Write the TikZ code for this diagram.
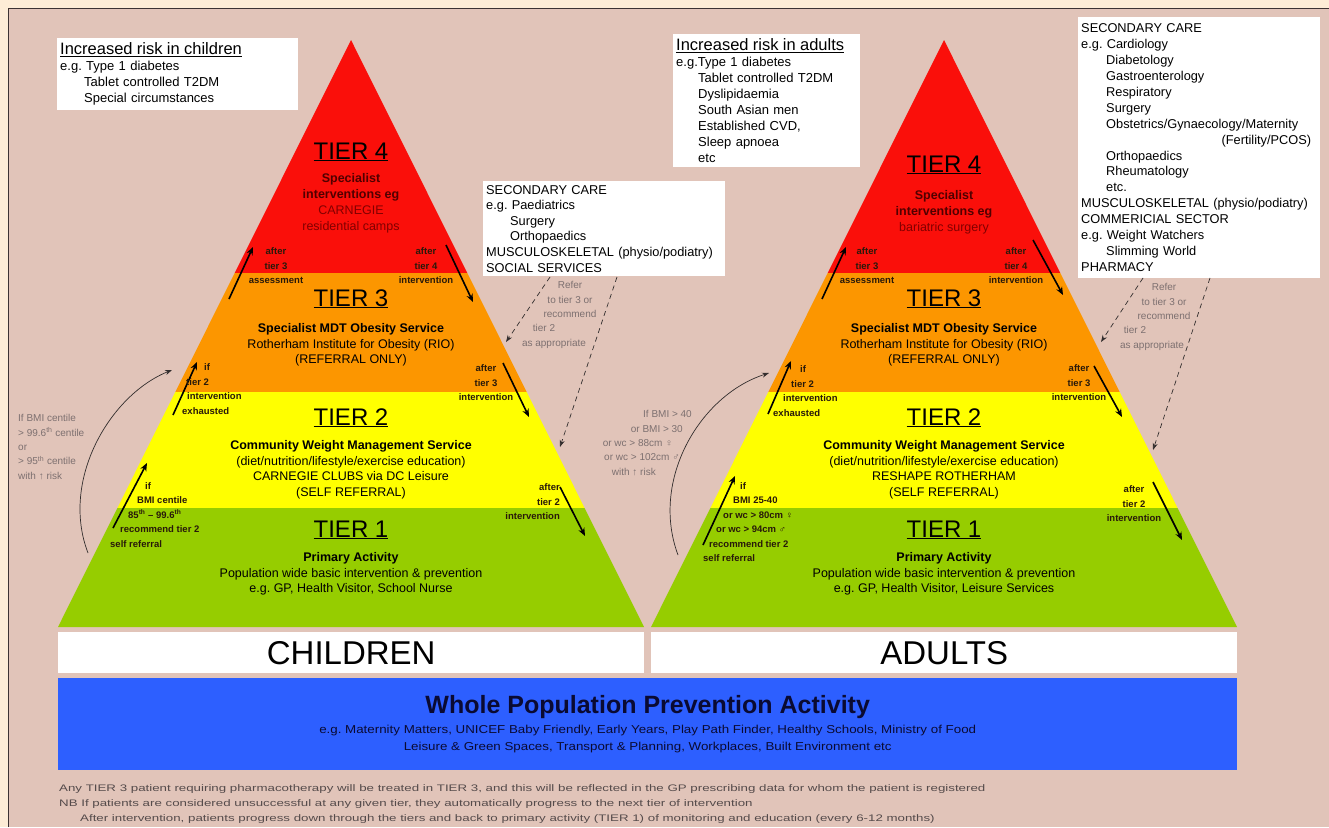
\documentclass[tikz,border=0pt]{standalone}
\usepackage{fontspec}
\setmainfont{Liberation Sans}
\newfontfamily\widefont[FakeStretch=1.4]{Liberation Sans}
\newfontfamily\midfont[FakeStretch=1.16]{Liberation Sans}
\usetikzlibrary{arrows.meta}
\frenchspacing
\definecolor{cream}{RGB}{253,236,214}
\definecolor{pinkbg}{RGB}{225,196,185}
\definecolor{framecol}{RGB}{60,50,50}
\definecolor{tred}{RGB}{250,15,10}
\definecolor{torange}{RGB}{252,150,0}
\definecolor{tyellow}{RGB}{255,255,0}
\definecolor{tgreen}{RGB}{150,205,0}
\definecolor{tblue}{RGB}{45,95,255}
\definecolor{navy}{RGB}{10,10,50}
\definecolor{redtxt}{RGB}{130,0,0}
\definecolor{darkred}{RGB}{80,0,0}
\definecolor{greytxt}{RGB}{125,112,112}
\definecolor{notetxt}{RGB}{85,75,75}
\definecolor{linecol}{RGB}{50,45,45}
\definecolor{labtxt}{RGB}{40,25,10}
\tikzset{
 fsz/.style 2 args={font=\fontsize{#1}{#2}\selectfont},
 infobox/.style={fill=white, anchor=north west, align=left, inner xsep=3pt, inner ysep=0pt, text=black},
 namebox/.style={fill=white, anchor=north west, inner sep=0pt, minimum width=586pt, minimum height=41pt, fsz={33}{36}},
 tiertitle/.style={anchor=base, inner sep=0pt, fsz={24}{28}},
 tierdesc/.style={align=center, inner sep=0pt, fsz={12.5}{15.5}},
 lab/.style={inner sep=0pt, text=labtxt, font=\fontsize{9.5}{14.5}\selectfont\bfseries},
 greylab/.style={inner sep=0pt, fsz={10}{14.3}, text=greytxt},
 tarrow/.style={draw=black, line width=1.6pt, -{Stealth[length=8pt,width=6.5pt]}},
 carrow/.style={draw=linecol, line width=0.7pt, -{Stealth[length=7pt,width=5pt]}},
 darrow/.style={draw=linecol, line width=0.7pt, dash pattern=on 5pt off 4pt, -{Stealth[length=7pt,width=5pt]}},
 note/.style={anchor=base west, inner sep=0pt, text=notetxt, font=\widefont\fontsize{9.5}{12}\selectfont},
}
\begin{document}
\begin{tikzpicture}[x=1pt,y=-1pt]
\fill[cream] (0,0) rectangle (1329,827);
\useasboundingbox (0,0) rectangle (1329,827);
\fill[pinkbg] (9,9) rectangle (1329,827);
\draw[framecol, line width=1.5pt] (8.5,827) -- (8.5,8.5) -- (1329,8.5);

% pyramids
\begin{scope}
 \clip (351,40) -- (58,627) -- (644,627) -- cycle;
 \fill[tred] (50,30) rectangle (650,273);
 \fill[torange] (50,273) rectangle (650,392);
 \fill[tyellow] (50,392) rectangle (650,508);
 \fill[tgreen] (50,508) rectangle (650,628);
\end{scope}
\begin{scope}
 \clip (944,40) -- (651,627) -- (1237,627) -- cycle;
 \fill[tred] (640,30) rectangle (1240,273);
 \fill[torange] (640,273) rectangle (1240,392);
 \fill[tyellow] (640,392) rectangle (1240,508);
 \fill[tgreen] (640,508) rectangle (1240,628);
\end{scope}

% name boxes
\node[namebox] (children) at (58,632) {CHILDREN};
\node[namebox] (adults) at (651,632) {ADULTS};

% whole population
\node[fill=tblue, anchor=north west, minimum width=1179pt, minimum height=92pt, inner sep=0pt, align=center, text=navy, font=\midfont\fontsize{11.5}{17}\selectfont] (whole) at (58,678)
 {{\rmfamily\fontsize{25}{25}\selectfont\bfseries Whole Population Prevention Activity}\\[3pt]
  e.g. Maternity Matters, UNICEF Baby Friendly, Early Years, Play Path Finder, Healthy Schools, Ministry of Food\\
  Leisure \& Green Spaces, Transport \& Planning, Workplaces, Built Environment etc};

% notes
\node[note] (n1) at (59,791) {Any TIER 3 patient requiring pharmacotherapy will be treated in TIER 3, and this will be reflected in the GP prescribing data for whom the patient is registered};
\node[note] (n2) at (59,806) {NB If patients are considered unsuccessful at any given tier, they automatically progress to the next tier of intervention};
\node[note] (n3) at (80,821) {After intervention, patients progress down through the tiers and back to primary activity (TIER 1) of monitoring and education (every 6-12 months)};

% info boxes
\node[infobox, text width=235pt, minimum height=72pt, fsz={13}{16}] (crisk) at (57,38)
 {{\fontsize{16.5}{16}\selectfont\underline{Increased risk in children}}\\
  e.g. Type 1 diabetes\\
  \hspace*{24pt}Tablet controlled T2DM\\
  \hspace*{24pt}Special circumstances};
\node[infobox, text width=236pt, minimum height=95pt, fsz={12.8}{15.6}] (csec) at (483,181)
 {SECONDARY CARE\\
  e.g. Paediatrics\\
  \hspace*{24pt}Surgery\\
  \hspace*{24pt}Orthopaedics\\
  MUSCULOSKELETAL (physio/podiatry)\\
  SOCIAL SERVICES};
\node[infobox, text width=181pt, minimum height=133pt, fsz={13}{16}] (arisk) at (673,34)
 {{\fontsize{16.5}{16}\selectfont\underline{Increased risk in adults}}\\
  e.g.Type 1 diabetes\\
  \hspace*{22pt}Tablet controlled T2DM\\
  \hspace*{22pt}Dyslipidaemia\\
  \hspace*{22pt}South Asian men\\
  \hspace*{22pt}Established CVD,\\
  \hspace*{22pt}Sleep apnoea\\
  \hspace*{22pt}etc};
\node[infobox, text width=236pt, minimum height=261pt, fsz={12.8}{15.9}] (asec) at (1078,17)
 {SECONDARY CARE\\
  e.g. Cardiology\\
  \hspace*{25pt}Diabetology\\
  \hspace*{25pt}Gastroenterology\\
  \hspace*{25pt}Respiratory\\
  \hspace*{25pt}Surgery\\
  \hspace*{25pt}Obstetrics/Gynaecology/Maternity\\
  \hspace*{\fill}(Fertility/PCOS)\rule{6pt}{0pt}\\
  \hspace*{25pt}Orthopaedics\\
  \hspace*{25pt}Rheumatology\\
  \hspace*{25pt}etc.\\
  MUSCULOSKELETAL (physio/podiatry)\\
  COMMERICIAL SECTOR\\
  e.g. Weight Watchers\\
  \hspace*{25pt}Slimming World\\
  PHARMACY};

% tier texts, children
\node[tiertitle] (t4l) at (351,159) {\underline{TIER 4}};
\node[tierdesc, fsz={12.5}{16}] (d4l) at (351,203)
 {\textcolor{darkred}{\textbf{Specialist}}\\ \textcolor{darkred}{\textbf{interventions eg}}\\ \textcolor{redtxt}{CARNEGIE}\\ \textcolor{redtxt}{residential camps}};
\node[tiertitle] (t3l) at (351,306) {\underline{TIER 3}};
\node[tierdesc] (d3l) at (351,345)
 {\textbf{Specialist MDT Obesity Service}\\ Rotherham Institute for Obesity (RIO)\\ (REFERRAL ONLY)};
\node[tiertitle] (t2l) at (351,425) {\underline{TIER 2}};
\node[tierdesc] (d2l) at (351,470)
 {\textbf{Community Weight Management Service}\\ (diet/nutrition/lifestyle/exercise education)\\ CARNEGIE CLUBS via DC Leisure\\ (SELF REFERRAL)};
\node[tiertitle] (t1l) at (351,537) {\underline{TIER 1}};
\node[tierdesc] (d1l) at (351,574)
 {\textbf{Primary Activity}\\ Population wide basic intervention \& prevention\\ e.g. GP, Health Visitor, School Nurse};

% tier texts, adults
\node[tiertitle] (t4r) at (944,172) {\underline{TIER 4}};
\node[tierdesc, fsz={12.5}{16}] (d4r) at (944,212)
 {\textcolor{darkred}{\textbf{Specialist}}\\ \textcolor{darkred}{\textbf{interventions eg}}\\ \textcolor{redtxt}{bariatric surgery}};
\node[tiertitle] (t3r) at (944,306) {\underline{TIER 3}};
\node[tierdesc] (d3r) at (944,345)
 {\textbf{Specialist MDT Obesity Service}\\ Rotherham Institute for Obesity (RIO)\\ (REFERRAL ONLY)};
\node[tiertitle] (t2r) at (944,425) {\underline{TIER 2}};
\node[tierdesc] (d2r) at (944,470)
 {\textbf{Community Weight Management Service}\\ (diet/nutrition/lifestyle/exercise education)\\ RESHAPE ROTHERHAM\\ (SELF REFERRAL)};
\node[tiertitle] (t1r) at (944,537) {\underline{TIER 1}};
\node[tierdesc] (d1r) at (944,574)
 {\textbf{Primary Activity}\\ Population wide basic intervention \& prevention\\ e.g. GP, Health Visitor, Leisure Services};

% children arrows
\coordinate (a1s) at (229,299); \coordinate (a1e) at (253,247);
\draw[tarrow] (a1s) -- (a1e);
\node[lab, align=center] (l1) at (276,266) {after\\tier 3\\assessment};
\coordinate (a2s) at (446,245); \coordinate (a2e) at (473,302);
\draw[tarrow] (a2s) -- (a2e);
\node[lab, align=center] (l2) at (426,266) {after\\tier 4\\intervention};
\coordinate (a3s) at (173,415); \coordinate (a3e) at (197,362);
\draw[tarrow] (a3s) -- (a3e);
\node[lab, align=left, anchor=west] (l3) at (182,389) {\hspace*{22pt}if\\\hspace*{4pt}tier 2\\\hspace*{5pt}intervention\\exhausted};
\coordinate (a4s) at (503,363); \coordinate (a4e) at (529,417);
\draw[tarrow] (a4s) -- (a4e);
\node[lab, align=center] (l4) at (486,383) {after\\tier 3\\intervention};
\coordinate (a5s) at (113,528); \coordinate (a5e) at (147,463);
\draw[tarrow] (a5s) -- (a5e);
\node[lab, align=left, anchor=west] (l5) at (110,515) {\hspace*{35pt}if\\\hspace*{27pt}BMI centile\\\hspace*{18pt}85\textsuperscript{th} -- 99.6\textsuperscript{th}\\\hspace*{10pt}recommend tier 2\\self referral};
\coordinate (a6s) at (560,487); \coordinate (a6e) at (585,536);
\draw[tarrow] (a6s) -- (a6e);
\node[lab, align=right, anchor=east] (l6) at (560,502) {after\\tier 2\\intervention};
\coordinate (c1s) at (88,553); \coordinate (c1e) at (172,370);
\draw[carrow] (c1s) .. controls (60,480) and (110,395) .. (c1e);
\node[greylab, align=left, anchor=west] (g1) at (18,447) {If BMI centile\\> 99.6\textsuperscript{th} centile\\or\\> 95\textsuperscript{th} centile\\with ↑ risk};
\coordinate (d1s) at (550,277); \coordinate (d1e) at (506,342);
\draw[darrow] (d1s) -- (d1e);
\coordinate (d2s) at (617,277); \coordinate (d2e) at (560,447);
\draw[darrow] (d2s) -- (d2e);
\node[greylab, align=center] (r1) at (570,315) {Refer\\to tier 3 or\\recommend\\tier 2\rule{52pt}{0pt}\\as appropriate\rule{32pt}{0pt}};

% adult arrows
\coordinate (b1s) at (822,299); \coordinate (b1e) at (846,247);
\draw[tarrow] (b1s) -- (b1e);
\node[lab, align=center] (m1) at (867,266) {after\\tier 3\\assessment};
\coordinate (b2s) at (1033,240); \coordinate (b2e) at (1063,295);
\draw[tarrow] (b2s) -- (b2e);
\node[lab, align=center] (m2) at (1016,266) {after\\tier 4\\intervention};
\coordinate (b3s) at (768,414); \coordinate (b3e) at (791,361);
\draw[tarrow] (b3s) -- (b3e);
\node[lab, align=left, anchor=west] (m3) at (773,391) {\hspace*{27pt}if\\\hspace*{18pt}tier 2\\\hspace*{10pt}intervention\\exhausted};
\coordinate (b4s) at (1094,366); \coordinate (b4e) at (1122,417);
\draw[tarrow] (b4s) -- (b4e);
\node[lab, align=center] (m4) at (1079,383) {after\\tier 3\\intervention};
\coordinate (b5s) at (703,545); \coordinate (b5e) at (735,476);
\draw[tarrow] (b5s) -- (b5e);
\node[lab, align=left, anchor=west] (m5) at (703,522) {\hspace*{37pt}if\\\hspace*{30pt}BMI 25-40\\\hspace*{20pt}or wc > 80cm ♀\\\hspace*{13pt}or wc > 94cm ♂\\\hspace*{6pt}recommend tier 2\\self referral};
\coordinate (b6s) at (1153,482); \coordinate (b6e) at (1182,540);
\draw[tarrow] (b6s) -- (b6e);
\node[lab, align=center] (m6) at (1134,504) {after\\tier 2\\intervention};
\coordinate (c2s) at (678,555); \coordinate (c2e) at (769,373);
\draw[carrow] (c2s) .. controls (650,480) and (700,395) .. (c2e);
\node[greylab, align=right, anchor=east] (g2) at (692,443) {If BMI > 40\\or BMI > 30\rule{9pt}{0pt}\\or wc > 88cm ♀\rule{19pt}{0pt}\\or wc > 102cm ♂\rule{12pt}{0pt}\\with ↑ risk\rule{36pt}{0pt}};
\coordinate (e1s) at (1143,278); \coordinate (e1e) at (1101,342);
\draw[darrow] (e1s) -- (e1e);
\coordinate (e2s) at (1210,278); \coordinate (e2e) at (1153,450);
\draw[darrow] (e2s) -- (e2e);
\node[greylab, align=center] (r2) at (1164,317) {Refer\\to tier 3 or\\recommend\\tier 2\rule{58pt}{0pt}\\as appropriate\rule{24pt}{0pt}};
\end{tikzpicture}
\end{document}
